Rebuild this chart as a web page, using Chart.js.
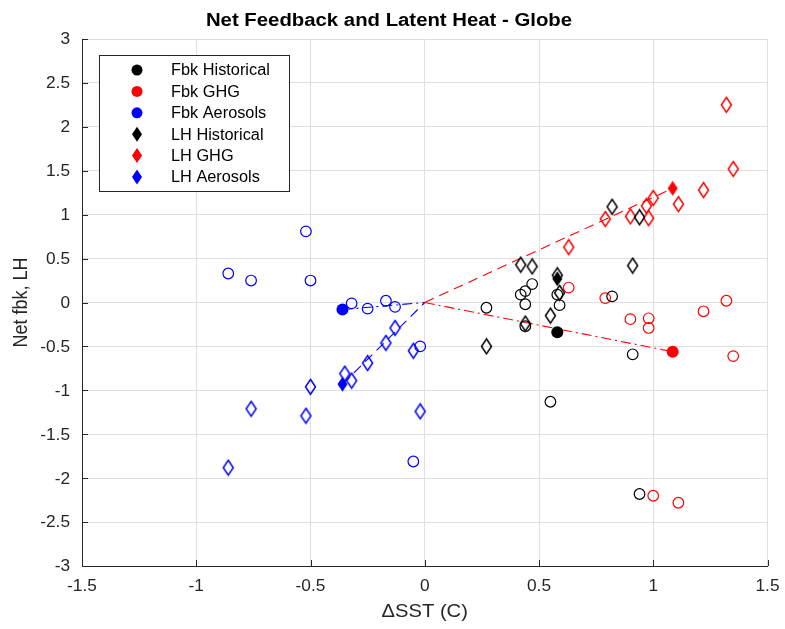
<!DOCTYPE html>
<html>
<head>
<meta charset="utf-8">
<script src="https://cdn.jsdelivr.net/npm/chart.js@4/dist/chart.umd.min.js"></script>
<style>
  html, body { margin: 0; padding: 0; background: #fff; }
  #wrap { width: 785px; height: 629px; position: relative; }
</style>
</head>
<body>
<div id="wrap"><canvas id="chart" width="785" height="629"></canvas></div>
<script>
"use strict";

// ticks
const xTicks = [-1.5, -1, -0.5, 0, 0.5, 1, 1.5];
const yTicks = [3, 2.5, 2, 1.5, 1, 0.5, 0, -0.5, -1, -1.5, -2, -2.5, -3];

// net feedback (circles)
const fbkHistX = [0.27, 0.42, 0.44, 0.47, 0.44, 0.44, 0.58, 0.59, 0.82, 0.91, 0.55, 0.94];
const fbkHistY = [-0.06, 0.09, 0.13, 0.21, -0.02, -0.27, 0.09, -0.03, 0.07, -0.59, -1.13, -2.18];
const fbkGhgX = [0.63, 0.79, 0.90, 0.98, 0.98, 1.22, 1.32, 1.35, 1.00, 1.11];
const fbkGhgY = [0.17, 0.05, -0.19, -0.18, -0.29, -0.10, 0.02, -0.61, -2.20, -2.28];
const fbkAerX = [-0.52, -0.86, -0.76, -0.50, -0.32, -0.25, -0.17, -0.13, -0.02, -0.05];
const fbkAerY = [0.81, 0.33, 0.25, 0.25, -0.01, -0.07, 0.02, -0.05, -0.50, -1.81];

// latent heat (diamonds)
const lhHistX = [0.42, 0.47, 0.58, 0.59, 0.55, 0.44, 0.27, 0.82, 0.91, 0.94];
const lhHistY = [0.43, 0.41, 0.31, 0.11, -0.15, -0.24, -0.50, 1.09, 0.42, 0.97];
const lhGhgX = [1.32, 1.35, 1.22, 1.11, 1.00, 0.97, 0.98, 0.90, 0.79, 0.63];
const lhGhgY = [2.25, 1.52, 1.28, 1.12, 1.19, 1.10, 0.96, 0.98, 0.95, 0.63];
const lhAerX = [-0.35, -0.32, -0.25, -0.17, -0.13, -0.05, -0.50, -0.76, -0.52, -0.02, -0.86];
const lhAerY = [-0.81, -0.89, -0.69, -0.46, -0.29, -0.55, -0.96, -1.21, -1.29, -1.24, -1.88];

// ensemble means [x, y]
const fbkHistMean = [0.58, -0.34];
const fbkGhgMean = [1.085, -0.56];
const fbkAerMean = [-0.36, -0.08];
const lhHistMean = [0.58, 0.27];
const lhGhgMean = [1.085, 1.30];
const lhAerMean = [-0.36, -0.93];
const origin = [0, 0];

const legendLabels = ["Fbk Historical", "Fbk GHG", "Fbk Aerosols", "LH Historical", "LH GHG", "LH Aerosols"];
const legendColors = ["#000000", "#ff0000", "#0000ff", "#000000", "#ff0000", "#0000ff"];
const legendShapes = ["circle", "circle", "circle", "diamond", "diamond", "diamond"];

const TEXT = "#262626";
const FONT = "'Liberation Sans', Arial, Helvetica, sans-serif";

function pts(xs, ys) {
  return xs.map((x, i) => ({ x, y: ys[i] }));
}

function seg(a, b) {
  return [{ x: a[0], y: a[1] }, { x: b[0], y: b[1] }];
}

function makeDiamond(color, filled) {
  const c = document.createElement("canvas");
  c.width = 13;
  c.height = 18;
  const g = c.getContext("2d");
  g.beginPath();
  g.moveTo(6.5, 1.5);
  g.lineTo(11.5, 9);
  g.lineTo(6.5, 16.5);
  g.lineTo(1.5, 9);
  g.closePath();
  if (filled) {
    g.fillStyle = color;
    g.fill();
  } else {
    g.lineWidth = 1.5;
    g.strokeStyle = color;
    g.stroke();
  }
  return c;
}

function circles(data, color) {
  return {
    data, pointStyle: "circle", pointRadius: 5.3, borderWidth: 1.2,
    borderColor: color, backgroundColor: "rgba(0,0,0,0)", showLine: false
  };
}

function diamonds(data, color) {
  return {
    data, pointStyle: makeDiamond(color, false), pointRadius: 6,
    borderColor: color, showLine: false
  };
}

function meanCircle(p, color) {
  return {
    data: [{ x: p[0], y: p[1] }], pointStyle: "circle", pointRadius: 6,
    borderWidth: 0, backgroundColor: color, borderColor: color, showLine: false
  };
}

function meanDiamond(p, color) {
  return {
    data: [{ x: p[0], y: p[1] }], pointStyle: makeDiamond(color, true),
    pointRadius: 7, borderColor: color, showLine: false
  };
}

function line(data, color, dash) {
  return {
    data, showLine: true, pointRadius: 0, borderColor: color,
    borderWidth: 1.1, borderDash: dash, backgroundColor: color
  };
}

function drawText(ctx, text, x, y, font, align, sx) {
  ctx.save();
  ctx.translate(x, y);
  ctx.scale(sx, 1);
  ctx.font = font;
  ctx.textAlign = align;
  ctx.textBaseline = "middle";
  ctx.fillText(text, 0, 0);
  ctx.restore();
}

const decorPlugin = {
  id: "decor",
  afterDraw(chart) {
    const { ctx, chartArea: a, scales } = chart;
    const xs = scales.x;
    const ys = scales.y;

    // inward tick marks
    ctx.save();
    ctx.strokeStyle = TEXT;
    ctx.lineWidth = 1;
    ctx.beginPath();
    yTicks.forEach((v) => {
      const py = Math.round(ys.getPixelForValue(v)) + 0.5;
      ctx.moveTo(a.left, py);
      ctx.lineTo(a.left + 6, py);
    });
    xTicks.forEach((v) => {
      const px = Math.round(xs.getPixelForValue(v)) + 0.5;
      ctx.moveTo(px, a.bottom);
      ctx.lineTo(px, a.bottom - 6);
    });
    ctx.stroke();
    ctx.restore();

    // tick labels
    ctx.fillStyle = TEXT;
    yTicks.forEach((v) => {
      drawText(ctx, String(v), a.left - 12, ys.getPixelForValue(v) + 1, "16px " + FONT, "right", 1.08);
    });
    xTicks.forEach((v) => {
      drawText(ctx, String(v), xs.getPixelForValue(v), a.bottom + 21, "16px " + FONT, "center", 1.08);
    });

    // title and axis titles
    ctx.fillStyle = "#000";
    drawText(ctx, "Net Feedback and Latent Heat - Globe", 389, 21, "bold 18px " + FONT, "center", 1.13);
    ctx.fillStyle = TEXT;
    drawText(ctx, "\u0394SST (C)", (a.left + a.right) / 2, 612, "18px " + FONT, "center", 1.12);
    ctx.save();
    ctx.translate(22, (a.top + a.bottom) / 2);
    ctx.rotate(-Math.PI / 2);
    ctx.scale(1, 1.1);
    ctx.font = "18px " + FONT;
    ctx.textAlign = "center";
    ctx.textBaseline = "middle";
    ctx.fillText("Net fbk, LH", 0, 0);
    ctx.restore();

    // legend box
    const bx = 99.5, by = 55.5, bw = 190, bh = 136;
    ctx.save();
    ctx.fillStyle = "#fff";
    ctx.fillRect(bx, by, bw, bh);
    ctx.strokeStyle = TEXT;
    ctx.lineWidth = 1;
    ctx.strokeRect(bx, by, bw, bh);
    legendLabels.forEach((label, i) => {
      const cy = 70 + i * 21.4;
      const mx = 137;
      ctx.fillStyle = legendColors[i];
      ctx.beginPath();
      if (legendShapes[i] === "circle") {
        ctx.arc(mx, cy, 5.5, 0, Math.PI * 2);
      } else {
        ctx.moveTo(mx, cy - 7.5);
        ctx.lineTo(mx + 5, cy);
        ctx.lineTo(mx, cy + 7.5);
        ctx.lineTo(mx - 5, cy);
        ctx.closePath();
      }
      ctx.fill();
      ctx.fillStyle = "#000";
      drawText(ctx, label, 171, cy + 1, "16px " + FONT, "left", 1.02);
    });
    ctx.restore();
  }
};

const datasets = [
  meanCircle(fbkHistMean, "#000000"),
  meanCircle(fbkGhgMean, "#ff0000"),
  meanCircle(fbkAerMean, "#0000ff"),
  meanDiamond(lhHistMean, "#000000"),
  meanDiamond(lhGhgMean, "#ff0000"),
  meanDiamond(lhAerMean, "#0000ff"),
  circles(pts(fbkHistX, fbkHistY), "#000000"),
  circles(pts(fbkGhgX, fbkGhgY), "#ff0000"),
  circles(pts(fbkAerX, fbkAerY), "#0000ff"),
  diamonds(pts(lhHistX, lhHistY), "#000000"),
  diamonds(pts(lhGhgX, lhGhgY), "#ff0000"),
  diamonds(pts(lhAerX, lhAerY), "#0000ff"),
  line(seg(origin, lhGhgMean), "#ff0000", [10, 6]),
  line(seg(origin, fbkGhgMean), "#ff0000", [10, 4, 2, 4]),
  line(seg(fbkAerMean, origin), "#0000ff", [10, 4, 2, 4]),
  line(seg(lhAerMean, origin), "#0000ff", [10, 6])
];

new Chart(document.getElementById("chart"), {
  type: "scatter",
  data: { datasets },
  options: {
    responsive: false,
    animation: false,
    events: [],
    layout: { padding: { top: 39, right: 17.5, left: 0, bottom: 0 } },
    plugins: { legend: { display: false }, tooltip: { enabled: false }, title: { display: false } },
    scales: {
      x: {
        type: "linear", min: -1.5, max: 1.5,
        afterBuildTicks: (s) => { s.ticks = xTicks.map((v) => ({ value: v })); },
        afterFit: (s) => { s.height = 63; },
        ticks: { display: false },
        grid: { color: "#dfdfdf", lineWidth: 1, drawTicks: false },
        border: { display: true, color: TEXT, width: 1 }
      },
      y: {
        type: "linear", min: -3, max: 3,
        afterBuildTicks: (s) => { s.ticks = yTicks.map((v) => ({ value: v })); },
        afterFit: (s) => { s.width = 82; },
        ticks: { display: false },
        grid: { color: "#dfdfdf", lineWidth: 1, drawTicks: false },
        border: { display: true, color: TEXT, width: 1 }
      }
    }
  },
  plugins: [decorPlugin]
});
</script>
</body>
</html>
